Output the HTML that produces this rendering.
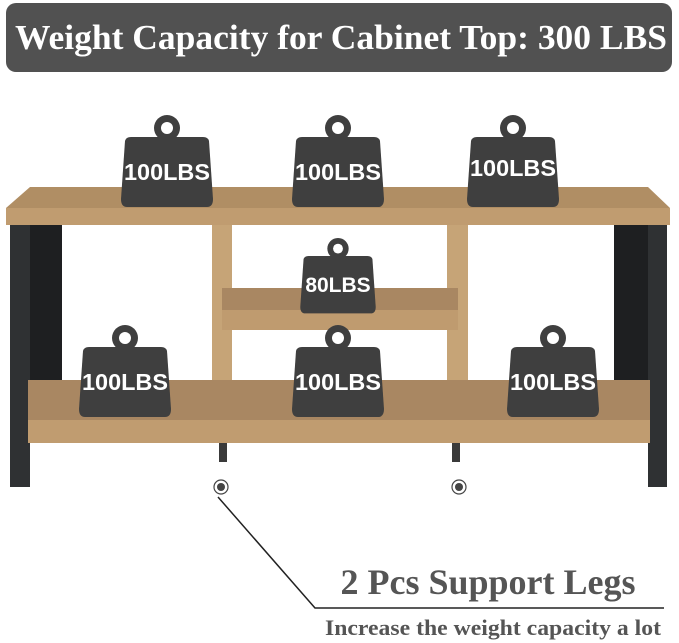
<!DOCTYPE html>
<html><head><style>body{margin:0;background:#fff}svg{display:block}</style></head><body>
<svg width="679" height="643" viewBox="0 0 679 643" xmlns="http://www.w3.org/2000/svg">
<defs>
<g id="w">
<circle cx="0" cy="-9" r="13" fill="#3f3f3f"/><circle cx="0" cy="-9" r="6" fill="#fff"/>
<path d="M-36,0 H36 Q41,0 42,4 L46,62 Q46,70 40,70 H-40 Q-46,70 -46,62 L-42,4 Q-41,0 -36,0Z" fill="#3f3f3f"/>
</g>
</defs>
<rect x="6" y="3" width="666" height="69" rx="10" fill="#515151"/>
<text x="341" y="49" text-anchor="middle" font-family="Liberation Serif" font-weight="bold" font-size="35" fill="#fff" textLength="652" lengthAdjust="spacingAndGlyphs">Weight Capacity for Cabinet Top: 300 LBS</text>
<rect x="10" y="222" width="20" height="265" fill="#2f3133"/>
<rect x="30" y="225" width="32" height="190" fill="#1e1f21"/>
<rect x="648" y="222" width="19" height="265" fill="#2f3133"/>
<rect x="614" y="225" width="34" height="200" fill="#1e1f21"/>
<path d="M30,187 H648 L670,208 V225 H6 V208Z" fill="#b08e64"/>
<rect x="6" y="208" width="664" height="17" fill="#c09c70"/>
<rect x="212" y="225" width="20" height="210" fill="#c6a477"/>
<rect x="447" y="225" width="21" height="210" fill="#c6a477"/>
<rect x="222" y="288" width="236" height="22" fill="#a98762"/>
<rect x="222" y="310" width="236" height="20" fill="#bf9b6f"/>
<rect x="28" y="380" width="622" height="40" fill="#a98762"/>
<rect x="28" y="420" width="622" height="23" fill="#c09c70"/>
<rect x="219" y="443" width="8" height="19" fill="#3a3a3a"/>
<rect x="452" y="443" width="8" height="19" fill="#3a3a3a"/>
<g font-family="Liberation Sans" font-weight="bold" font-size="23" fill="#fff" text-anchor="middle">
<use href="#w" x="167" y="137"/><text x="167" y="180" textLength="86" lengthAdjust="spacingAndGlyphs">100LBS</text>
<use href="#w" x="338" y="137"/><text x="338" y="180" textLength="86" lengthAdjust="spacingAndGlyphs">100LBS</text>
<use href="#w" x="513" y="137"/><text x="513" y="176" textLength="86" lengthAdjust="spacingAndGlyphs">100LBS</text>
<g transform="translate(338,256) scale(0.82)"><use href="#w"/></g><text x="338" y="292" font-size="21">80LBS</text>
<use href="#w" x="125" y="347"/><text x="125" y="390" textLength="86" lengthAdjust="spacingAndGlyphs">100LBS</text>
<use href="#w" x="338" y="347"/><text x="338" y="390" textLength="86" lengthAdjust="spacingAndGlyphs">100LBS</text>
<use href="#w" x="553" y="347"/><text x="553" y="390" textLength="86" lengthAdjust="spacingAndGlyphs">100LBS</text>
</g>
<circle cx="221" cy="487" r="7" fill="none" stroke="#444" stroke-width="1.2"/><circle cx="221" cy="487" r="4" fill="#444"/>
<circle cx="459" cy="487" r="7" fill="none" stroke="#444" stroke-width="1.2"/><circle cx="459" cy="487" r="4" fill="#444"/>
<polyline points="218,497 315,608 664,608" fill="none" stroke="#222" stroke-width="1.5"/>
<text x="488" y="594" text-anchor="middle" font-family="Liberation Serif" font-weight="bold" font-size="36" fill="#555" textLength="295" lengthAdjust="spacingAndGlyphs">2 Pcs Support Legs</text>
<text x="493" y="635" text-anchor="middle" font-family="Liberation Serif" font-weight="bold" font-size="22" fill="#555" textLength="336" lengthAdjust="spacingAndGlyphs">Increase the weight capacity a lot</text>
</svg>
</body></html>
